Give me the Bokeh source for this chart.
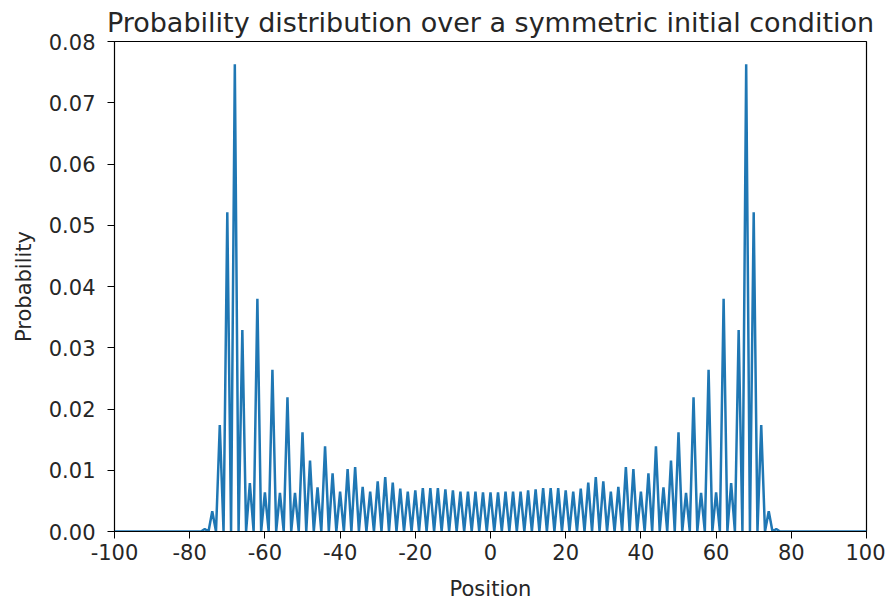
from bokeh.plotting import figure
from bokeh.models import Range1d, FixedTicker, NumeralTickFormatter
from bokeh.embed import file_html
from bokeh.resources import INLINE

# Positions -100..100; probability is non-zero only at even positions
position = list(range(-100, 101))

# Probability at even positions -100, -98, ..., 100
even_prob = [
    0, 0, 0, 0, 0, 0, 0, 0, 0, 0, 0, 0,            # -100 .. -78
    0.0004, 0.0033, 0.0174, 0.0521, 0.0763, 0.0329,  # -76 .. -66
    0.0079, 0.0380, 0.0064, 0.0264, 0.0063, 0.0219,  # -64 .. -54
    0.0063, 0.0162, 0.0116, 0.0072, 0.0139, 0.0095,  # -52 .. -42
    0.0065, 0.0102, 0.0105, 0.0073, 0.0065, 0.0082,  # -40 .. -30
    0.0089, 0.0080, 0.0070, 0.0065, 0.0067, 0.0071,  # -28 .. -18
    0.0071, 0.0071, 0.0069, 0.0067, 0.0065, 0.0065,  # -16 .. -6
    0.0065, 0.0064,                                  # -4, -2
    0.0064,                                          # 0
    0.0064, 0.0065,                                  # 2, 4
    0.0065, 0.0065, 0.0067, 0.0069, 0.0071, 0.0071,  # 6 .. 16
    0.0071, 0.0067, 0.0065, 0.0070, 0.0080, 0.0089,  # 18 .. 28
    0.0082, 0.0065, 0.0073, 0.0105, 0.0102, 0.0065,  # 30 .. 40
    0.0095, 0.0139, 0.0072, 0.0116, 0.0162, 0.0063,  # 42 .. 52
    0.0219, 0.0063, 0.0264, 0.0064, 0.0380, 0.0079,  # 54 .. 64
    0.0329, 0.0763, 0.0521, 0.0174, 0.0033, 0.0004,  # 66 .. 76
    0, 0, 0, 0, 0, 0, 0, 0, 0, 0, 0, 0,            # 78 .. 100
]

probability = []
for x in position:
    if x % 2 == 0:
        probability.append(even_prob[(x + 100) // 2])
    else:
        probability.append(0.0)

x_ticks = [-100, -80, -60, -40, -20, 0, 20, 40, 60, 80, 100]
x_tick_labels = ["-100", "-80", "-60", "-40", "-20", "0", "20", "40", "60", "80", "100"]
y_ticks = [0.0, 0.01, 0.02, 0.03, 0.04, 0.05, 0.06, 0.07, 0.08]

FONT = "DejaVu Sans"
TXT = "#262626"

p = figure(width=885, height=605, output_backend="svg", toolbar_location=None,
           x_range=Range1d(-100, 100), y_range=Range1d(0, 0.08),
           min_border_left=114, min_border_right=19, min_border_top=21,
           min_border_bottom=74)

p.title.text = "Probability distribution over a symmetric initial condition"
p.title.text_font = FONT
p.title.text_font_size = "27px"
p.title.text_font_style = "normal"
p.title.align = "center"
p.title.text_color = TXT
p.title.standoff = 8

p.line(position, probability, line_color="#1f77b4", line_width=2.5)

p.xgrid.visible = False
p.ygrid.visible = False
p.outline_line_color = "black"
p.outline_line_width = 1.2
p.background_fill_color = "white"
p.border_fill_color = "white"

p.xaxis.ticker = FixedTicker(ticks=x_ticks)
p.xaxis.major_label_overrides = {t: s for t, s in zip(x_ticks, x_tick_labels)}
p.yaxis.ticker = FixedTicker(ticks=y_ticks)
p.yaxis.formatter = NumeralTickFormatter(format="0.00")

for ax in (p.xaxis[0], p.yaxis[0]):
    ax.major_tick_in = 0
    ax.major_tick_out = 7
    ax.minor_tick_line_color = None
    ax.axis_line_color = "black"
    ax.major_tick_line_color = "black"
    ax.major_label_text_font = FONT
    ax.major_label_text_font_size = "21px"
    ax.major_label_text_color = TXT
    ax.axis_label_text_font = FONT
    ax.axis_label_text_font_size = "21px"
    ax.axis_label_text_font_style = "normal"
    ax.axis_label_text_color = TXT

p.xaxis.axis_label = "Position"
p.yaxis.axis_label = "Probability"
p.xaxis.major_label_standoff = 5
p.yaxis.major_label_standoff = 12
p.xaxis.axis_label_standoff = 14
p.yaxis.axis_label_standoff = 10

open("out.html", "w").write(file_html(p, INLINE))
